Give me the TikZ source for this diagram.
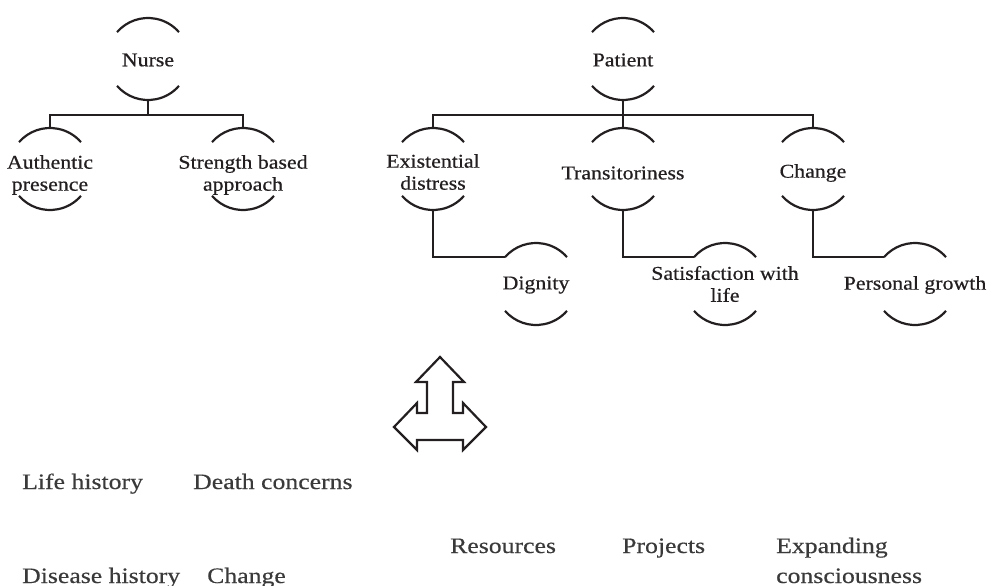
\documentclass[tikz,border=0pt]{standalone}
\usepackage{fontspec}
\setmainfont[FakeStretch=1.12,FakeBold=0.6]{Liberation Serif}
\newfontfamily\bottomfont[FakeStretch=1.17,FakeBold=0.4]{Liberation Serif}
\usetikzlibrary{calc}
\definecolor{ink}{HTML}{231F20}
\definecolor{greyink}{HTML}{3A3A3A}
\newcommand\mybubble[5]{% name, x, y, text, text shift
  \coordinate (#1) at (#2,#3);
  \node[lbl] (#1-t) at ([yshift=#5]#1) {#4};
  \draw[ln] ([shift={(139:41pt)}]#1) arc[start angle=139,end angle=41,radius=41pt];
  \draw[ln] ([shift={(221:41pt)}]#1) arc[start angle=221,end angle=319,radius=41pt];
}
\begin{document}
\begin{tikzpicture}[x=1pt,y=-1pt,
  ln/.style={draw=ink,line width=2.2pt},
  lbl/.style={text=ink,font=\fontsize{19.5}{22}\selectfont,align=center,inner sep=0pt},
  btxt/.style={text=greyink,font=\bottomfont\fontsize{22}{30}\selectfont,align=left,inner sep=0pt,anchor=base west}]
\useasboundingbox (0,0) rectangle (988,586);

% Nurse tree
\mybubble{nurse}{148}{59}{Nurse}{-1pt}
\mybubble{auth}{50}{169}{Authentic\\presence}{-6pt}
\mybubble{stren}{243}{169}{Strength based\\approach}{-6pt}
\draw[ln] ([yshift=-41pt]nurse) -- ++(0pt,-15pt) -| ([yshift=41pt]auth);
\draw[ln] ([yshift=-41pt]nurse) -- ++(0pt,-15pt) -| ([yshift=41pt]stren);

% Patient tree
\mybubble{pat}{623}{59}{Patient}{-1pt}
\mybubble{exist}{433}{169}{Existential\\distress}{-3pt}
\mybubble{trans}{623}{169}{Transitoriness}{-4pt}
\mybubble{chg}{813}{169}{Change}{-4pt}
\draw[ln] ([yshift=-41pt]pat) -- ++(0pt,-15pt) -| ([yshift=41pt]exist);
\draw[ln] ([yshift=-41pt]pat) -- ([yshift=41pt]trans);
\draw[ln] ([yshift=-41pt]pat) -- ++(0pt,-15pt) -| ([yshift=41pt]chg);

\mybubble{dign}{536}{284}{Dignity}{-1pt}
\mybubble{satis}{725}{284}{Satisfaction with\\life}{0pt}
\mybubble{pgrow}{915}{284}{Personal growth}{-1pt}
\draw[ln] ([yshift=-41pt]exist) |- ([shift={(139:41pt)}]dign);
\draw[ln] ([yshift=-41pt]trans) |- ([shift={(139:41pt)}]satis);
\draw[ln] ([yshift=-41pt]chg) |- ([shift={(139:41pt)}]pgrow);

% three-way arrow
\draw[ln,line join=miter] (440,357) -- (464,382) -- (453,382) -- (453,413) -- (463,413) -- (463,403)
  -- (486,427) -- (463,450) -- (463,440) -- (417,440) -- (417,450) -- (394,427) -- (417,403)
  -- (417,413) -- (427,413) -- (427,382) -- (416,382) -- cycle;

% bottom texts
\node[btxt] (lifeh) at (22,489) {Life history};
\node[btxt] (death) at (193,489) {Death concerns};
\node[btxt] (disease) at (22,583) {Disease history};
\node[btxt] (chgb) at (207,583) {Change};
\node[btxt] (res) at (450,553) {Resources};
\node[btxt] (proj) at (622,553) {Projects};
\node[btxt] (expand) at (776,583) {Expanding\\consciousness};
\end{tikzpicture}
\end{document}
